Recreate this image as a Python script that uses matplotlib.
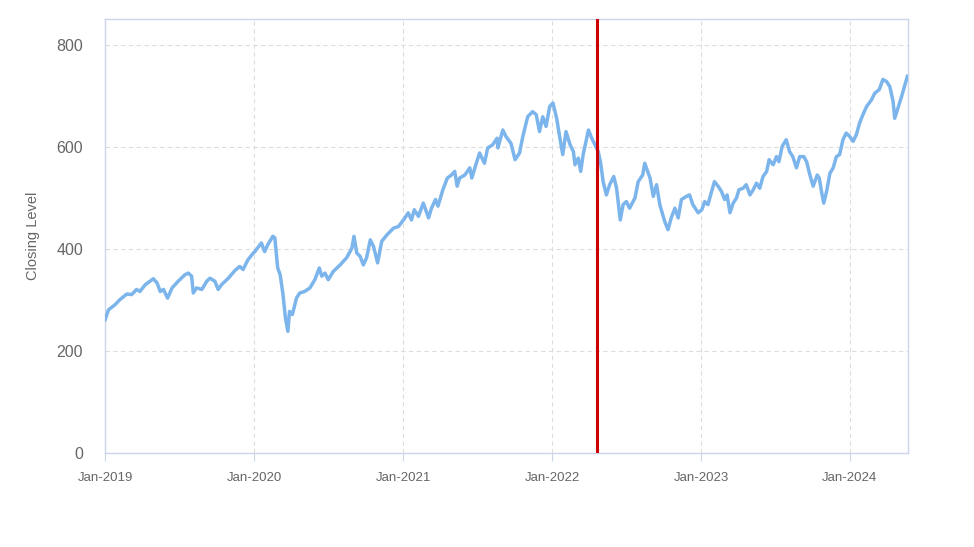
import matplotlib
matplotlib.use("Agg")
import matplotlib.pyplot as plt
import matplotlib.dates as mdates
import pandas as pd

# closing level
dates = [
    "2019-01-01", "2019-01-09", "2019-01-25", "2019-02-06", "2019-02-23", "2019-03-07",
    "2019-03-19", "2019-03-27", "2019-04-09", "2019-04-29", "2019-05-08", "2019-05-16",
    "2019-05-24", "2019-06-03", "2019-06-14", "2019-06-30", "2019-07-16", "2019-07-24",
    "2019-08-01", "2019-08-05", "2019-08-13", "2019-08-26", "2019-09-07", "2019-09-15",
    "2019-09-27", "2019-10-05", "2019-10-13", "2019-10-30", "2019-11-15", "2019-11-27",
    "2019-12-05", "2019-12-17", "2019-12-30",
    "2020-01-03", "2020-01-19", "2020-01-27", "2020-02-04", "2020-02-16", "2020-02-21",
    "2020-02-28", "2020-03-05", "2020-03-12", "2020-03-18", "2020-03-24", "2020-03-28",
    "2020-04-04", "2020-04-14", "2020-04-22", "2020-05-04", "2020-05-17", "2020-05-29",
    "2020-06-09", "2020-06-15", "2020-06-23", "2020-07-01", "2020-07-13", "2020-07-30",
    "2020-08-15", "2020-08-28", "2020-09-02", "2020-09-09", "2020-09-17", "2020-09-25",
    "2020-10-03", "2020-10-12", "2020-10-20", "2020-10-30", "2020-11-09", "2020-11-22",
    "2020-12-08", "2020-12-20",
    "2021-01-05", "2021-01-13", "2021-01-21", "2021-01-28", "2021-02-07", "2021-02-19",
    "2021-03-04", "2021-03-11", "2021-03-21", "2021-03-27", "2021-04-08", "2021-04-19",
    "2021-04-29", "2021-05-07", "2021-05-13", "2021-05-19", "2021-06-01", "2021-06-13",
    "2021-06-18", "2021-06-29", "2021-07-07", "2021-07-19", "2021-07-27", "2021-08-08",
    "2021-08-19", "2021-08-21", "2021-09-02", "2021-09-10", "2021-09-22", "2021-10-02",
    "2021-10-13", "2021-10-21", "2021-11-02", "2021-11-14", "2021-11-23", "2021-12-01",
    "2021-12-09", "2021-12-17", "2021-12-26",
    "2022-01-03", "2022-01-12", "2022-01-20", "2022-01-27", "2022-02-04", "2022-02-14",
    "2022-02-22", "2022-02-26", "2022-03-06", "2022-03-12", "2022-03-18", "2022-03-31",
    "2022-04-08", "2022-04-16", "2022-04-24", "2022-04-30", "2022-05-06", "2022-05-14",
    "2022-05-22", "2022-06-01", "2022-06-08", "2022-06-17", "2022-06-24", "2022-07-02",
    "2022-07-10", "2022-07-23", "2022-07-31", "2022-08-11", "2022-08-16", "2022-08-29",
    "2022-09-06", "2022-09-14", "2022-09-22", "2022-10-04", "2022-10-12", "2022-10-20",
    "2022-10-29", "2022-11-06", "2022-11-14", "2022-11-26", "2022-12-04", "2022-12-12",
    "2022-12-25",
    "2023-01-03", "2023-01-10", "2023-01-18", "2023-01-26", "2023-02-03", "2023-02-12",
    "2023-02-20", "2023-02-28", "2023-03-06", "2023-03-13", "2023-03-21", "2023-03-29",
    "2023-04-04", "2023-04-14", "2023-04-22", "2023-05-01", "2023-05-09", "2023-05-17",
    "2023-05-25", "2023-06-02", "2023-06-11", "2023-06-17", "2023-06-27", "2023-07-05",
    "2023-07-11", "2023-07-19", "2023-07-29", "2023-08-06", "2023-08-14", "2023-08-23",
    "2023-08-31", "2023-09-10", "2023-09-17", "2023-09-25", "2023-10-03", "2023-10-13",
    "2023-10-18", "2023-10-24", "2023-10-29", "2023-11-05", "2023-11-13", "2023-11-21",
    "2023-11-29", "2023-12-07", "2023-12-15", "2023-12-23",
    "2024-01-01", "2024-01-09", "2024-01-17", "2024-01-25", "2024-02-02", "2024-02-11",
    "2024-02-23", "2024-03-02", "2024-03-13", "2024-03-22", "2024-03-31", "2024-04-08",
    "2024-04-16", "2024-04-20", "2024-04-28", "2024-05-07", "2024-05-15", "2024-05-21",
]
closing = [
    262, 281, 291, 301, 312, 311,
    321, 317, 330, 342, 334, 317,
    321, 304, 324, 338, 350, 353,
    347, 314, 324, 321, 337, 343,
    337, 321, 330, 343, 358, 366,
    360, 379, 392,
    395, 412, 395, 409, 425, 422,
    363, 350, 311, 265, 239, 278,
    272, 304, 314, 317, 324, 340,
    363, 347, 353, 340, 356, 369,
    383, 402, 425, 392, 386, 369,
    383, 418, 405, 373, 415, 428,
    441, 444,
    461, 471, 457, 477, 464, 490,
    461, 480, 497, 484, 516, 539,
    545, 552, 523, 539, 545, 559,
    539, 568, 588, 568, 598, 604,
    617, 598, 633, 620, 607, 575,
    588, 620, 659, 669, 663, 630,
    659, 640, 679,
    686, 656, 617, 585, 630, 604,
    591, 565, 578, 552, 585, 633,
    617, 604, 591, 568, 532, 506,
    526, 542, 519, 457, 487, 493,
    480, 500, 532, 545, 568, 539,
    503, 526, 487, 454, 438, 461,
    480, 461, 497, 503, 506, 487,
    471,
    477, 493, 487, 510, 532, 523,
    513, 497, 506, 471, 490, 500,
    516, 519, 526, 506, 516, 529,
    519, 542, 552, 575, 565, 581,
    571, 601, 614, 591, 581, 559,
    581, 581, 571, 545, 523, 545,
    539, 510, 490, 513, 548, 559,
    581, 585, 614, 627,
    620, 611, 624, 647, 663, 679,
    692, 705, 712, 732, 728, 718,
    689, 656, 676, 699, 721, 738,
]
marker_date = "2022-04-22"
tick_years = ["2019-01-01", "2020-01-01", "2021-01-01", "2022-01-01", "2023-01-01", "2024-01-01"]

df = pd.DataFrame({"date": pd.to_datetime(dates), "close": closing})

plt.rcParams["font.family"] = ["Liberation Sans", "DejaVu Sans"]
fig = plt.figure(figsize=(9.74, 5.47), dpi=100)
ax = fig.add_axes([0.108, 0.171, 0.824, 0.794])

edge = "#ccd6eb"
ax.plot(df["date"], df["close"], color="#7cb5ec", lw=2.5, solid_joinstyle="round", zorder=3)
ax.axvline(pd.Timestamp(marker_date), color="#cc0000", lw=2.2, zorder=4)

ax.set_xlim(pd.Timestamp("2019-01-01"), pd.Timestamp("2024-05-22"))
ax.set_ylim(0, 850)
ax.set_yticks([0, 200, 400, 600, 800])
ax.set_xticks(pd.to_datetime(tick_years))
ax.xaxis.set_major_formatter(mdates.DateFormatter("%b-%Y"))

ax.grid(True, color="#dddddd", ls=(0, (4, 3)), lw=0.8)
ax.set_axisbelow(True)
for side in ["left", "right", "top", "bottom"]:
    ax.spines[side].set_color(edge)
    ax.spines[side].set_linewidth(1.0)

ax.tick_params(axis="y", length=0, labelsize=11.5, colors="#666666", pad=16)
ax.tick_params(axis="x", length=6, width=0.8, color=edge, labelsize=9.5,
               labelcolor="#666666", pad=7)
ax.set_ylabel("Closing Level", color="#666666", fontsize=10.5, labelpad=12)

fig.savefig("out.png", dpi=100, facecolor="white")
